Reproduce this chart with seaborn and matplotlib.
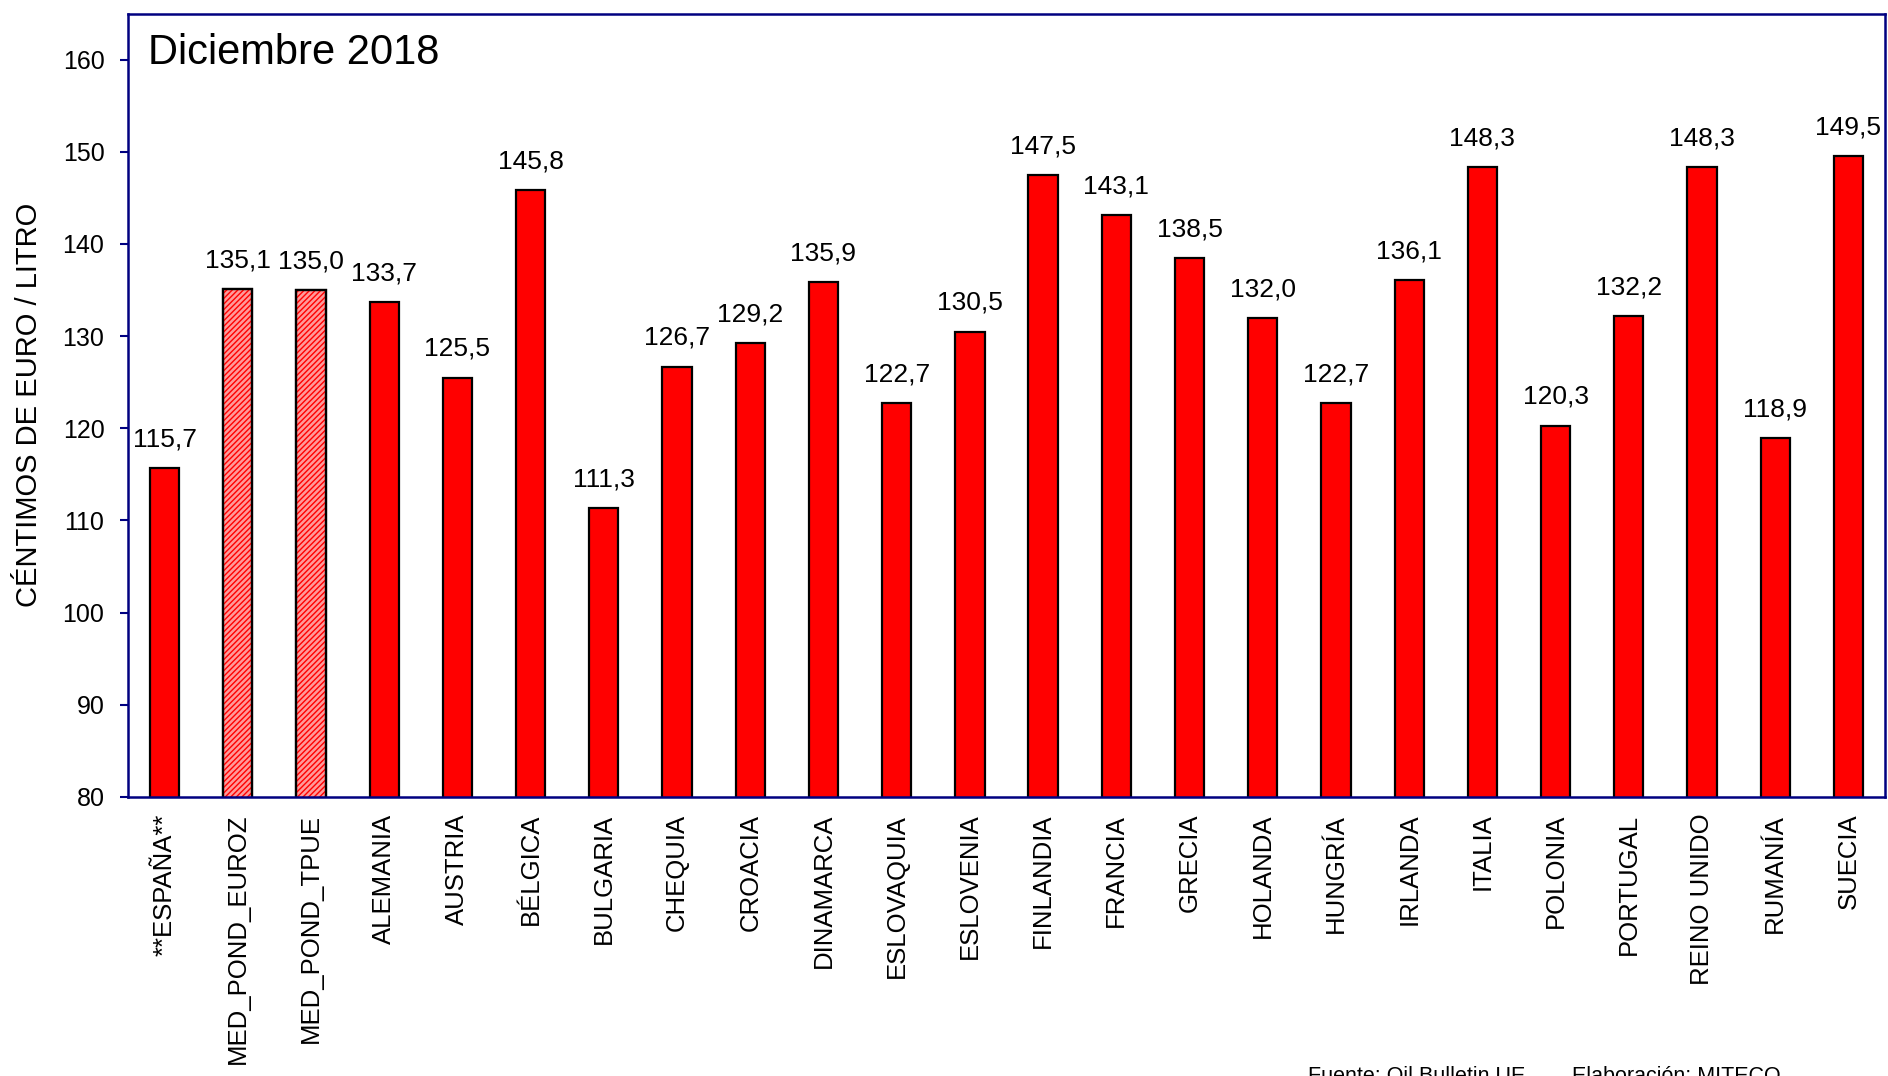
#!/usr/bin/env python3

import numpy as np
import pandas as pd
import seaborn as sns
import matplotlib.pyplot as plt

paises = [
    "**ESPAÑA**", "MED_POND_EUROZ", "MED_POND_TPUE", "ALEMANIA", "AUSTRIA",
    "BÉLGICA", "BULGARIA", "CHEQUIA", "CROACIA", "DINAMARCA", "ESLOVAQUIA",
    "ESLOVENIA", "FINLANDIA", "FRANCIA", "GRECIA", "HOLANDA", "HUNGRÍA",
    "IRLANDA", "ITALIA", "POLONIA", "PORTUGAL", "REINO UNIDO", "RUMANÍA",
    "SUECIA",
]
precios = [
    115.7, 135.1, 135.0, 133.7, 125.5, 145.8, 111.3, 126.7, 129.2, 135.9,
    122.7, 130.5, 147.5, 143.1, 138.5, 132.0, 122.7, 136.1, 148.3, 120.3,
    132.2, 148.3, 118.9, 149.5,
]
medias = ["MED_POND_EUROZ", "MED_POND_TPUE"]
y_ticks = [80, 90, 100, 110, 120, 130, 140, 150, 160]

NAVY = "#000080"


def main():
    sns.set_theme(style="white")
    plt.rcParams["font.family"] = ["Liberation Sans", "DejaVu Sans"]
    plt.rcParams["text.color"] = "black"
    plt.rcParams["axes.labelcolor"] = "black"

    data = pd.DataFrame({"pais": paises, "precio": precios})

    fig = plt.figure(figsize=(18.88, 10.76), dpi=100)
    ax = fig.add_axes([128 / 1888, 1 - 797 / 1076, 1757 / 1888, 783.5 / 1076])

    sns.barplot(
        data=data,
        x="pais",
        y="precio",
        ax=ax,
        color="#ff0000",
        saturation=1,
        edgecolor="black",
        linewidth=1.6,
        width=0.40,
    )

    # hatched look for the weighted averages
    for patch, pais in zip(ax.patches, paises):
        if pais in medias:
            patch.set_facecolor("#ff9a9a")
            x, w, h = patch.get_x(), patch.get_width(), patch.get_height()
            ax.bar(
                x + w / 2, h, width=w, facecolor="none", edgecolor="#ff0000",
                hatch="//////", linewidth=0, zorder=patch.get_zorder() + 0.1,
            )
            ax.bar(
                x + w / 2, h, width=w, facecolor="none", edgecolor="black",
                linewidth=1.6, zorder=patch.get_zorder() + 0.2,
            )

    for i, v in enumerate(precios):
        ax.annotate(
            f"{v:.1f}".replace(".", ","),
            xy=(i, v),
            xytext=(0, 12),
            textcoords="offset points",
            ha="center",
            va="bottom",
            fontsize=19,
            color="black",
        )

    ax.set_ylim(80, 165)
    ax.set_xlim(-0.5, len(paises) - 0.5)
    ax.set_yticks(y_ticks)
    ax.set_xlabel("")
    ax.set_ylabel("CÉNTIMOS DE EURO / LITRO", fontsize=21, labelpad=14)

    ax.tick_params(axis="y", which="major", left=True, length=6, width=1.5,
                   color=NAVY, labelcolor="black", labelsize=18, pad=11,
                   direction="out")
    ax.tick_params(axis="x", which="major", bottom=False, length=0,
                   labelcolor="black", labelsize=18.5, pad=12)
    plt.xticks(rotation=90)

    for spine in ax.spines.values():
        spine.set_visible(True)
        spine.set_color(NAVY)
        spine.set_linewidth(1.8)

    ax.text(0.0114, 0.975, "Diciembre 2018", transform=ax.transAxes,
            ha="left", va="top", fontsize=30, color="black")

    # source note sits at the very bottom edge, as in the original export
    fig.text(1308 / 1888, 1 - 1066 / 1076, "Fuente: Oil Bulletin UE",
             ha="left", va="top", fontsize=15.5, color="black")
    fig.text(1572 / 1888, 1 - 1066 / 1076, "Elaboración: MITECO",
             ha="left", va="top", fontsize=15.5, color="black")

    fig.savefig("out.png", dpi=100)


if __name__ == "__main__":
    main()
